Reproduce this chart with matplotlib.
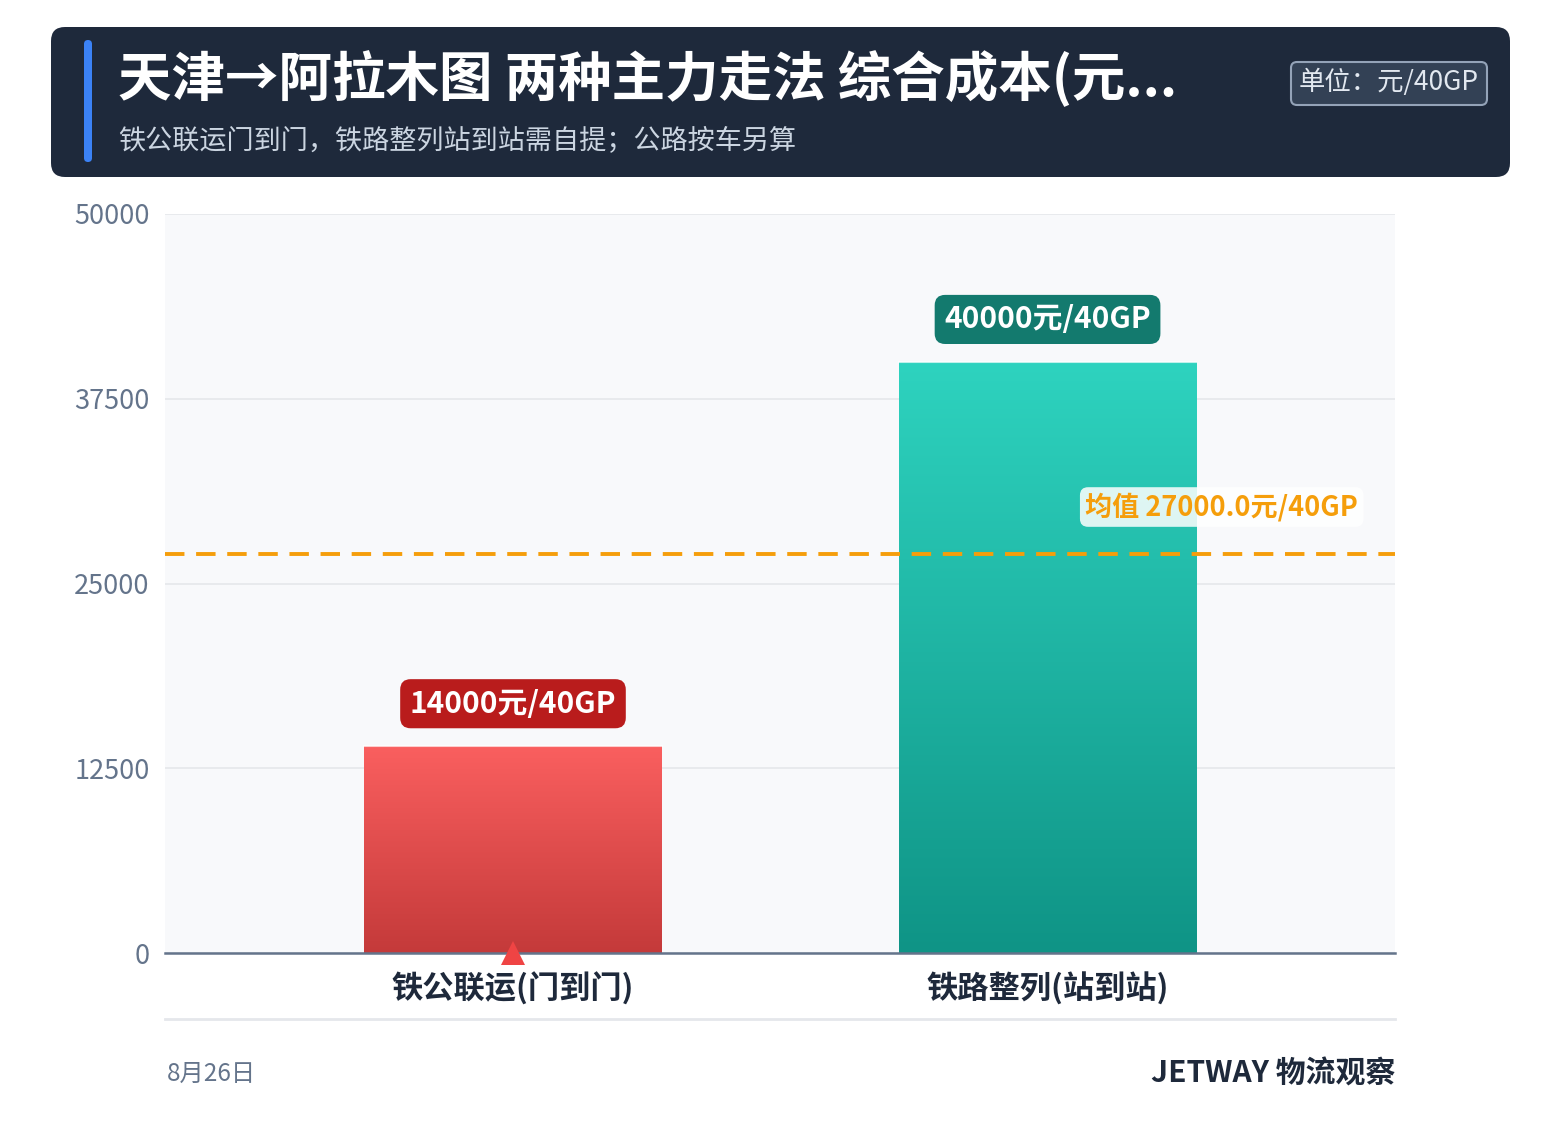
import matplotlib
matplotlib.use("Agg")
import matplotlib.pyplot as plt
import numpy as np
from matplotlib.patches import FancyBboxPatch
from matplotlib.colors import LinearSegmentedColormap

plt.rcParams['font.family'] = ['Noto Sans CJK SC', 'DejaVu Sans']

# ---- data ----
categories = ["铁公联运(门到门)", "铁路整列(站到站)"]
values = [14000, 40000]
value_labels = ["14000元/40GP", "40000元/40GP"]
mean_value = 27000.0
yticks = [0, 12500, 25000, 37500, 50000]
title = "天津→阿拉木图 两种主力走法 综合成本(元..."
subtitle = "铁公联运门到门，铁路整列站到站需自提；公路按车另算"
unit_text = "单位：元/40GP"
date_text = "8月26日"
brand_text = "JETWAY 物流观察"

W, H = 1561, 1145
fig = plt.figure(figsize=(W / 100, H / 100), dpi=100)
fig.patch.set_facecolor("white")

# overlay axes in pixel coordinates for header/footer
bg = fig.add_axes([0, 0, 1, 1], zorder=0)
bg.set_xlim(0, W)
bg.set_ylim(H, 0)
bg.axis("off")

# header
bg.add_patch(FancyBboxPatch((51, 27), 1459, 150, boxstyle="round,pad=0,rounding_size=14",
                            fc="#1e293b", ec="none"))
bg.add_patch(FancyBboxPatch((84, 40), 8, 122, boxstyle="round,pad=0,rounding_size=4",
                            fc="#3b82f6", ec="none"))
bg.text(118, 80, title, color="white", fontsize=38.5, fontweight="bold", va="center", ha="left")
bg.text(118, 141, subtitle, color="#cbd5e1", fontsize=19.5, va="center", ha="left")
bg.add_patch(FancyBboxPatch((1291, 62), 196, 43, boxstyle="round,pad=0,rounding_size=6",
                            fc="#334155", ec="#94a3b8", lw=1.5))
bg.text(1389, 82, unit_text, color="#e2e8f0", fontsize=19, va="center", ha="center")

# footer
bg.plot([165, 1395], [1019, 1019], color="#e5e7eb", lw=2)
bg.text(167, 1074, date_text, color="#64748b", fontsize=17.5, va="center", ha="left")
bg.text(1395, 1074, brand_text, color="#1e293b", fontsize=21.5, fontweight="bold", va="center", ha="right")

# main axes
ax = fig.add_axes([165 / W, (H - 953) / H, 1230 / W, (953 - 214) / H], zorder=1)
ax.set_facecolor("#f8f9fb")
x = np.arange(len(categories))
bars = ax.bar(x, values, width=0.557, color="none", edgecolor="none", zorder=3)

grads = [("#fa5f5f", "#c43a3a"), ("#2ed3bf", "#0f9486")]
for b, (top, bot) in zip(bars, grads):
    cmap = LinearSegmentedColormap.from_list("g", [bot, top])
    bx, by = b.get_x(), b.get_y()
    bw, bh = b.get_width(), b.get_height()
    grad = np.linspace(0, 1, 256).reshape(-1, 1)
    im = ax.imshow(grad, extent=[bx, bx + bw, by, by + bh], origin="lower", aspect="auto",
                   cmap=cmap, zorder=3)
    im.set_clip_path(b)
    ax.plot([bx, bx + bw], [by + bh, by + bh], color="white", lw=1.5, alpha=0.7, zorder=4)

ax.set_xlim(-0.651, 1.65)
ax.set_ylim(0, 50000)
ax.set_yticks(yticks)
ax.set_yticklabels([str(v) for v in yticks])
ax.set_xticks(x)
ax.set_xticklabels(categories, fontsize=22.5, fontweight="bold", color="#1e293b")
ax.tick_params(axis="y", length=0, labelsize=19.5, labelcolor="#64748b", pad=11)
ax.tick_params(axis="x", length=0, pad=14)
ax.grid(axis="y", color="#e5e7eb", lw=1.2, zorder=1)
ax.set_axisbelow(True)
for s in ["left", "right", "top"]:
    ax.spines[s].set_visible(False)
ax.spines["bottom"].set_color("#64748b")
ax.spines["bottom"].set_linewidth(1.8)
ax.spines["bottom"].set_zorder(5)

# value labels
box_colors = ["#b91c1c", "#137a6e"]
for xi, v, lab, bc in zip(x, values, value_labels, box_colors):
    ax.annotate(lab, (xi, v), xytext=(0, 30.5), textcoords="offset points", ha="center", va="center",
                fontsize=21.5, fontweight="bold", color="white", zorder=6,
                bbox=dict(boxstyle="round,pad=0.32,rounding_size=0.35", fc=bc, ec="none"))

# mean line
ax.axhline(mean_value, color="#f59e0b", lw=2.8, ls=(0, (5, 3)), zorder=5)
ax.text(0.97, 0.6035, f"均值 {mean_value:.1f}元/40GP", transform=ax.transAxes, ha="right", va="center",
        fontsize=19.5, fontweight="bold", color="#f59e0b", zorder=6,
        bbox=dict(boxstyle="round,pad=0.2,rounding_size=0.3", fc="white", ec="none", alpha=0.85))

# marker
ax.plot([0], [0], marker="^", markersize=17, color="#ef4444", clip_on=False, zorder=6,
        markeredgewidth=0)

fig.savefig("out.png", dpi=100)
